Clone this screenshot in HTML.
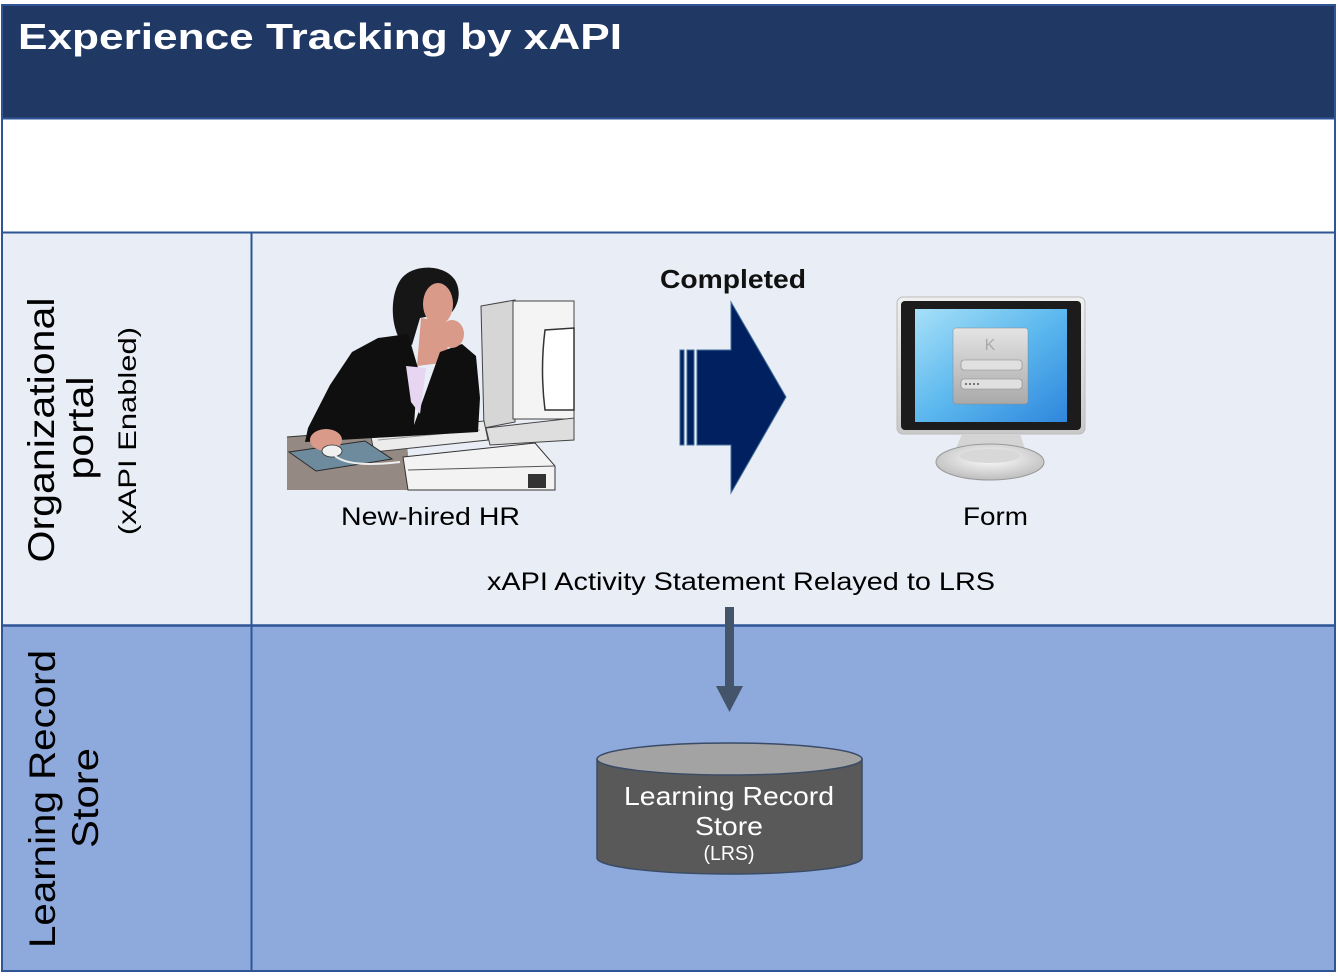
<!DOCTYPE html>
<html><head><meta charset="utf-8"><style>
html,body{margin:0;padding:0;background:#fff;}
svg{display:block;}
text{font-family:"Liberation Sans",sans-serif;}
</style></head><body>
<svg width="1338" height="976" viewBox="0 0 1338 976" xmlns="http://www.w3.org/2000/svg">
<defs>
<linearGradient id="scr" x1="0" y1="0" x2="1" y2="1">
<stop offset="0" stop-color="#a6e0f8"/><stop offset="0.5" stop-color="#5cb8ee"/><stop offset="1" stop-color="#2f86dc"/>
</linearGradient>
<linearGradient id="dlg" x1="0" y1="0" x2="0" y2="1">
<stop offset="0" stop-color="#e4e4e4"/><stop offset="1" stop-color="#a9a9a9"/>
</linearGradient>
<linearGradient id="frm" x1="0" y1="0" x2="0" y2="1">
<stop offset="0" stop-color="#f0f0f0"/><stop offset="1" stop-color="#c8c8c8"/>
</linearGradient>
<radialGradient id="base" cx="0.5" cy="0.4" r="0.6">
<stop offset="0" stop-color="#ffffff"/><stop offset="1" stop-color="#bdbdbd"/>
</radialGradient>
</defs>
<rect x="0" y="0" width="1338" height="976" fill="#ffffff"/>
<!-- header -->
<rect x="2" y="4" width="1333" height="114" fill="#203864"/>
<line x1="2" y1="4.5" x2="1335" y2="4.5" stroke="#8eaadb" stroke-width="1"/>
<!-- rows -->
<rect x="2" y="233" width="1333" height="392" fill="#e9edf6"/>
<rect x="2" y="626" width="1333" height="345" fill="#8eaadc"/>
<!-- grid lines -->
<g stroke="#2f5597" stroke-width="2" fill="none">
<rect x="2" y="5" width="1333" height="966"/>
<line x1="2" y1="118.5" x2="1335" y2="118.5"/>
<line x1="2" y1="232.5" x2="1335" y2="232.5"/>
<line x1="2" y1="625.5" x2="1335" y2="625.5" stroke-width="2.5"/>
<line x1="251.5" y1="232" x2="251.5" y2="971"/>
</g>
<!-- title -->
<text x="18" y="49" font-size="36" font-weight="bold" fill="#ffffff" textLength="604" lengthAdjust="spacingAndGlyphs">Experience Tracking by xAPI</text>

<!-- vertical labels -->
<text transform="translate(54,430) rotate(-90)" text-anchor="middle" font-size="37" fill="#000" textLength="265" lengthAdjust="spacingAndGlyphs">Organizational</text>
<text transform="translate(93,428) rotate(-90)" text-anchor="middle" font-size="37" fill="#000" textLength="103" lengthAdjust="spacingAndGlyphs">portal</text>
<text transform="translate(136,431) rotate(-90)" text-anchor="middle" font-size="25" fill="#000" textLength="208" lengthAdjust="spacingAndGlyphs">(xAPI Enabled)</text>
<text transform="translate(55,799) rotate(-90)" text-anchor="middle" font-size="37" fill="#000" textLength="298" lengthAdjust="spacingAndGlyphs">Learning Record</text>
<text transform="translate(98,798) rotate(-90)" text-anchor="middle" font-size="37" fill="#000" textLength="100" lengthAdjust="spacingAndGlyphs">Store</text>

<!-- woman clip art -->
<g>
<!-- desk -->
<polygon points="287,437 405,428 412,490 287,490" fill="#958983"/>
<line x1="287" y1="437" x2="405" y2="428" stroke="#333" stroke-width="1"/>
<!-- monitor (CRT) -->
<polygon points="481,306 515,300 515,422 484,428" fill="#d6d6d6" stroke="#444" stroke-width="1"/>
<rect x="513" y="301" width="61" height="118" fill="#f4f4f4" stroke="#444" stroke-width="1"/>
<path d="M545,330 Q540,370 545,410 L574,410 L574,328 Z" fill="#ffffff" stroke="#333" stroke-width="1.5"/>
<polygon points="486,428 574,418 574,440 490,445" fill="#dedede" stroke="#444" stroke-width="1"/>
<!-- keyboard -->
<polygon points="370,432 484,421 488,440 374,452" fill="#ececec" stroke="#444" stroke-width="1"/>
<line x1="378" y1="440" x2="480" y2="430" stroke="#999" stroke-width="1"/>
<!-- cpu box -->
<polygon points="403,457 535,443 555,466 555,490 408,490" fill="#f3f3f3" stroke="#333" stroke-width="1"/>
<line x1="408" y1="470" x2="555" y2="466" stroke="#555" stroke-width="1"/>
<rect x="528" y="474" width="18" height="14" fill="#333"/>
<!-- mouse pad -->
<polygon points="289,452 365,441 392,459 316,471" fill="#6e8b9d" stroke="#2a2a2a" stroke-width="1"/>
<!-- hair -->
<path d="M400,340 C388,318 392,285 405,275 C418,264 445,265 455,280 C462,292 458,305 452,312 L420,318 L412,345 Z" fill="#161616"/>
<!-- face -->
<ellipse cx="438" cy="304" rx="15" ry="21" fill="#d99a8a"/>
<polygon points="421,318 445,322 449,362 417,366" fill="#d99a8a"/>
<!-- jacket -->
<path d="M308,428 L330,385 L352,352 L378,338 L408,334 L418,368 L414,425 L440,352 L462,344 L476,356 L480,398 L478,432 L305,442 Z" fill="#0f0f0f"/>
<!-- blouse -->
<polygon points="406,366 426,368 420,414 411,402" fill="#e6d6f2"/>
<!-- hand at chin -->
<ellipse cx="452" cy="334" rx="12" ry="14" fill="#d99a8a"/>
<!-- hand on mouse -->
<ellipse cx="326" cy="440" rx="16" ry="11" fill="#d99a8a"/>
<ellipse cx="332" cy="451" rx="10" ry="6" fill="#f0f0f0" stroke="#333" stroke-width="0.8"/>
<path d="M335,456 Q350,468 400,462" stroke="#eee" stroke-width="2" fill="none"/>
</g>
<text x="341" y="525" font-size="25" fill="#000" textLength="179" lengthAdjust="spacingAndGlyphs">New-hired HR</text>

<!-- completed arrow -->
<text x="660" y="288" font-size="26" font-weight="bold" fill="#111" textLength="146" lengthAdjust="spacingAndGlyphs">Completed</text>
<g fill="#002060" stroke="#41719c" stroke-width="1">
<rect x="680" y="350" width="4" height="95"/>
<rect x="687" y="350" width="7" height="95"/>
<polygon points="697,350 731,350 731,302 786,397 731,493 731,445 697,445"/>
</g>

<!-- form monitor -->
<g>
<rect x="897" y="297" width="188" height="137" rx="6" fill="url(#frm)" stroke="#bbb" stroke-width="1"/>
<rect x="901" y="301" width="180" height="129" rx="4" fill="#1c1c1c"/>
<rect x="915" y="309" width="152" height="113" fill="url(#scr)"/>
<rect x="953" y="328" width="75" height="76" rx="3" fill="url(#dlg)" stroke="#888" stroke-width="0.5"/>
<text x="990" y="350" font-size="16" text-anchor="middle" fill="#aaa">K</text>
<rect x="961" y="360" width="61" height="10" rx="3" fill="#e0e0e0" stroke="#888" stroke-width="0.6"/>
<rect x="961" y="379" width="61" height="10" rx="3" fill="#e0e0e0" stroke="#888" stroke-width="0.6"/>
<g fill="#555"><circle cx="966" cy="384" r="1"/><circle cx="970" cy="384" r="1"/><circle cx="974" cy="384" r="1"/><circle cx="978" cy="384" r="1"/></g>
<polygon points="962,434 1020,434 1028,458 952,458" fill="#d4d4d4"/>
<ellipse cx="990" cy="462" rx="54" ry="18" fill="url(#base)" stroke="#999" stroke-width="1"/>
<ellipse cx="990" cy="456" rx="30" ry="7" fill="#d8d8d8"/>
</g>
<text x="963" y="525" font-size="25" fill="#000" textLength="65" lengthAdjust="spacingAndGlyphs">Form</text>

<text x="487" y="590" font-size="25" fill="#000" textLength="508" lengthAdjust="spacingAndGlyphs">xAPI Activity Statement Relayed to LRS</text>

<!-- down arrow -->
<rect x="725" y="607" width="9" height="80" fill="#44546a"/>
<polygon points="716,686 743,686 729.5,712" fill="#44546a"/>

<!-- cylinder -->
<path d="M597,759 L597,858 A132.5,16 0 0 0 862,858 L862,759 Z" fill="#595959" stroke="#3a4b66" stroke-width="1.5"/>
<ellipse cx="729.5" cy="759" rx="132.5" ry="16" fill="#a3a3a3" stroke="#3a4b66" stroke-width="1.5"/>
<text x="729" y="805" font-size="26" fill="#ffffff" text-anchor="middle" textLength="210" lengthAdjust="spacingAndGlyphs">Learning Record</text>
<text x="729" y="835" font-size="26" fill="#ffffff" text-anchor="middle" textLength="68" lengthAdjust="spacingAndGlyphs">Store</text>
<text x="729" y="860" font-size="20" fill="#ffffff" text-anchor="middle" textLength="51" lengthAdjust="spacingAndGlyphs">(LRS)</text>
</svg>
</body></html>
